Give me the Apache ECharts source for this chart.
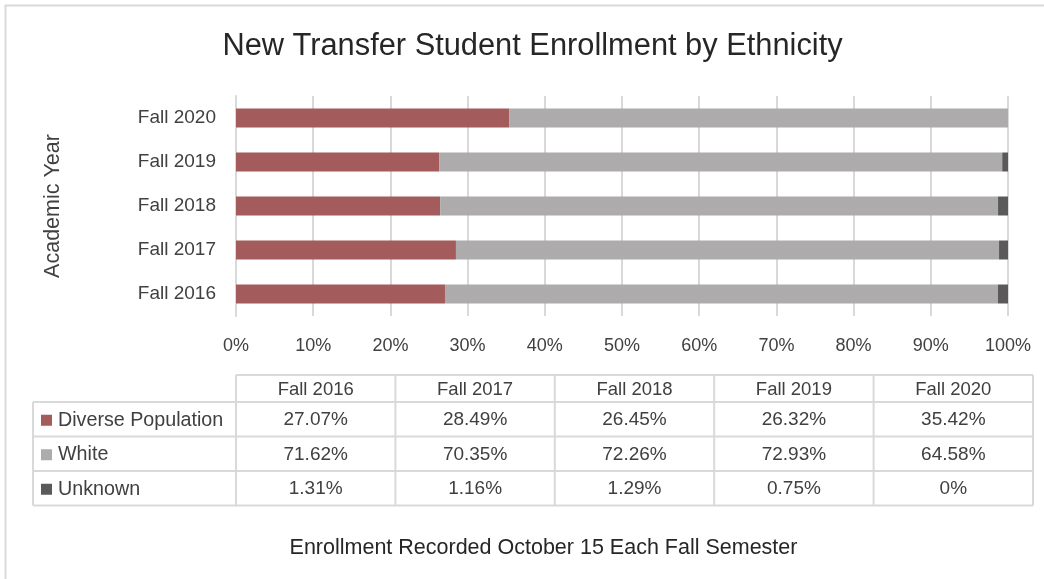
<!DOCTYPE html>
<html>
<head>
<meta charset="utf-8">
<script src="https://cdn.jsdelivr.net/npm/echarts@6/dist/echarts.min.js"></script>
<style>
html,body{margin:0;padding:0;background:#fff;}
#chart{width:1044px;height:579px;}
</style>
</head>
<body>
<div id="chart"></div>
<script>
var categories = ['Fall 2016', 'Fall 2017', 'Fall 2018', 'Fall 2019', 'Fall 2020'];
var seriesNames = ['Diverse Population', 'White', 'Unknown'];
var diverse = [27.07, 28.49, 26.45, 26.32, 35.42];
var white = [71.62, 70.35, 72.26, 72.93, 64.58];
var unknown = [1.31, 1.16, 1.29, 0.75, 0];
var tableLabels = [
  ['27.07%', '28.49%', '26.45%', '26.32%', '35.42%'],
  ['71.62%', '70.35%', '72.26%', '72.93%', '64.58%'],
  ['1.31%', '1.16%', '1.29%', '0.75%', '0%']
];
var colors = ['#a35b5b', '#adabab', '#5a5a5a'];

var FONT = '"Liberation Sans", Arial, sans-serif';
var TXT = '#404040';
var LINE = '#d9d9d9';

var chart = echarts.init(document.getElementById('chart'), null, {renderer: 'canvas'});

// table geometry
var tblLeft = 33, colStart = 236, colW = 159.4;
var rowTops = [375, 402, 436.5, 471, 505.5];
var graphics = [];
// outer chart border
graphics.push({type: 'rect', shape: {x: 5.5, y: 5.5, width: 1200, height: 1000}, style: {fill: 'none', stroke: LINE, lineWidth: 2}, silent: true});
// title
graphics.push({type: 'text', x: 532.5, y: 47, style: {text: 'New Transfer Student Enrollment by Ethnicity', font: '30.8px ' + FONT, fill: '#262626', align: 'center', verticalAlign: 'middle'}});
// footer
graphics.push({type: 'text', x: 543.5, y: 548, style: {text: 'Enrollment Recorded October 15 Each Fall Semester', font: '21.5px ' + FONT, fill: '#262626', align: 'center', verticalAlign: 'middle'}});

var nCols = categories.length;
var tblRight = colStart + colW * nCols;
function hline(x1, x2, y) {
  graphics.push({type: 'line', shape: {x1: x1, y1: y, x2: x2, y2: y}, style: {stroke: LINE, lineWidth: 2}, silent: true});
}
function vline(x, y1, y2) {
  graphics.push({type: 'line', shape: {x1: x, y1: y1, x2: x, y2: y2}, style: {stroke: LINE, lineWidth: 2}, silent: true});
}
hline(colStart, tblRight, rowTops[0]);
for (var r = 1; r < rowTops.length; r++) hline(tblLeft, tblRight, rowTops[r]);
vline(tblLeft, rowTops[1], rowTops[4]);
for (var c = 0; c <= nCols; c++) vline(colStart + c * colW, rowTops[0], rowTops[4]);
// header
categories.forEach(function (cat, i) {
  graphics.push({type: 'text', x: colStart + colW * (i + 0.5), y: (rowTops[0] + rowTops[1]) / 2 + 1, style: {text: cat, font: '18.5px ' + FONT, fill: TXT, align: 'center', verticalAlign: 'middle'}});
});
seriesNames.forEach(function (name, s) {
  var yc = (rowTops[s + 1] + rowTops[s + 2]) / 2 + 1;
  graphics.push({type: 'rect', shape: {x: 41, y: yc - 5.5, width: 11, height: 11}, style: {fill: colors[s]}});
  graphics.push({type: 'text', x: 58, y: yc, style: {text: name, font: '19.7px ' + FONT, fill: TXT, align: 'left', verticalAlign: 'middle'}});
  tableLabels[s].forEach(function (v, i) {
    graphics.push({type: 'text', x: colStart + colW * (i + 0.5), y: yc, style: {text: v, font: '19px ' + FONT, fill: TXT, align: 'center', verticalAlign: 'middle'}});
  });
});

var seriesData = [diverse, white, unknown];
var option = {
  animation: false,
  backgroundColor: '#fff',
  textStyle: {fontFamily: FONT},
  grid: {left: 236, right: 36, top: 96, height: 220, containLabel: false},
  xAxis: {
    type: 'value', min: 0, max: 100, interval: 10,
    axisLine: {show: false}, axisTick: {show: false},
    splitLine: {show: true, lineStyle: {color: LINE, width: 2}},
    axisLabel: {formatter: '{value}%', color: TXT, fontSize: 18, fontFamily: FONT, margin: 21}
  },
  yAxis: {
    type: 'category', data: categories,
    axisLine: {show: true, lineStyle: {color: LINE, width: 2}},
    axisTick: {show: false},
    axisLabel: {color: TXT, fontSize: 19, fontFamily: FONT, margin: 20},
    name: 'Academic Year', nameLocation: 'middle', nameRotate: 90, nameGap: 172,
    nameTextStyle: {color: TXT, fontSize: 21.5, fontFamily: FONT}
  },
  series: seriesNames.map(function (name, s) {
    return {
      name: name, type: 'bar', stack: 'total', data: seriesData[s],
      barWidth: 19,
      itemStyle: {color: colors[s]}
    };
  }),
  graphic: graphics
};
chart.setOption(option);
</script>
</body>
</html>
